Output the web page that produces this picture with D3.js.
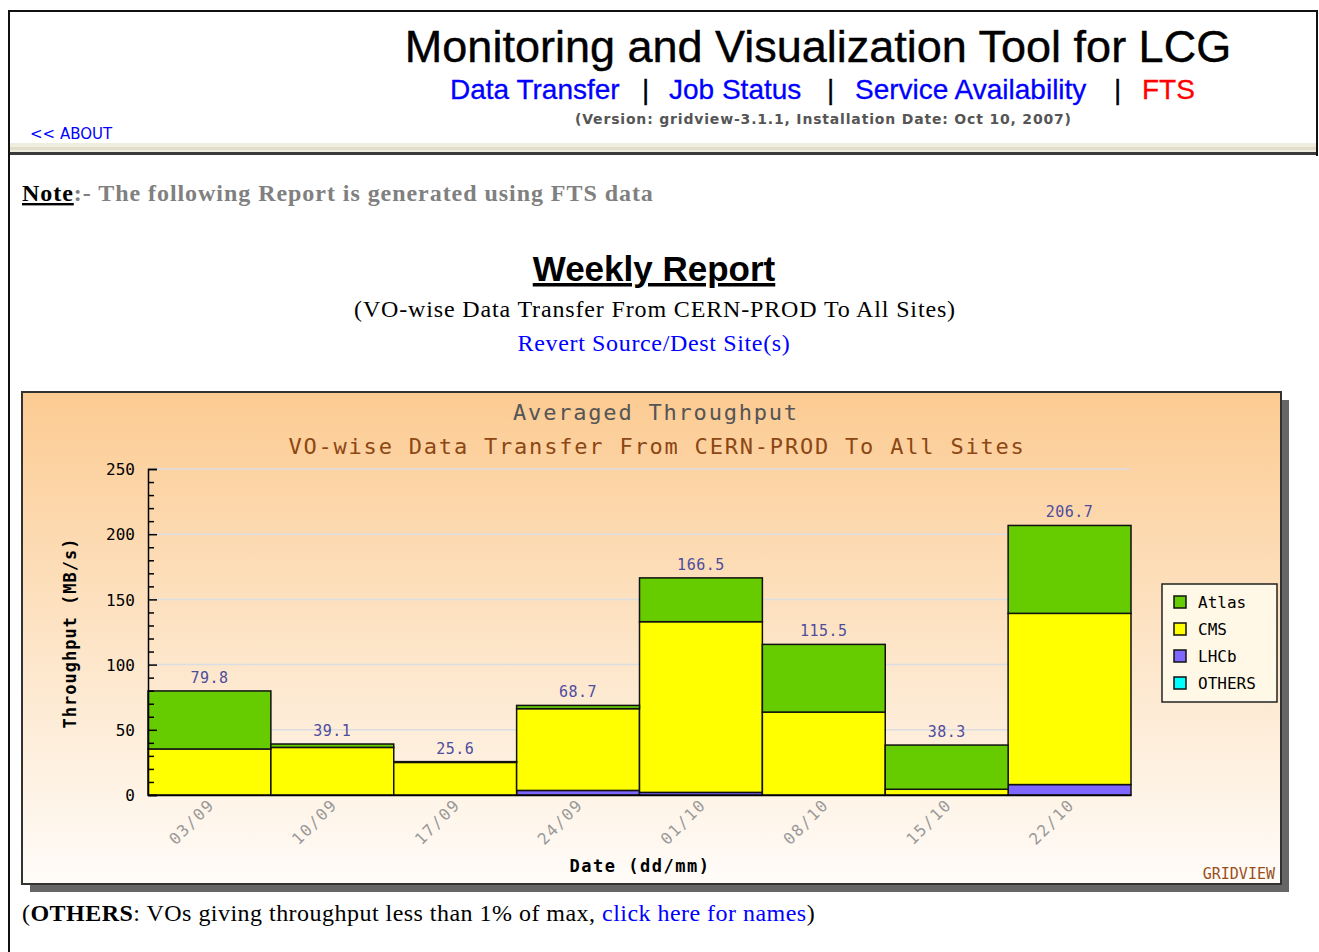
<!DOCTYPE html>
<html>
<head>
<meta charset="utf-8">
<script src="https://d3js.org/d3.v7.min.js"></script>
<style>
  html, body { margin: 0; padding: 0; background: #fff; }
  svg { display: block; }
</style>
</head>
<body>
<div id="chart"></div>
<script>
// ---------- data ----------
const weeks   = ["03/09", "10/09", "17/09", "24/09", "01/10", "08/10", "15/10", "22/10"];
const others  = [0, 0, 0, 0, 0, 0, 0, 0];
const lhcb    = [0, 0, 0, 3.5, 2.0, 0, 0, 8.0];
const cms     = [35.3, 36.5, 25.0, 62.7, 130.9, 63.6, 4.4, 131.3];
const atlas   = [44.5, 2.6, 0.6, 2.5, 33.6, 51.9, 33.9, 67.4];
const totals  = [79.8, 39.1, 25.6, 68.7, 166.5, 115.5, 38.3, 206.7];
const seriesNames = ["OTHERS", "LHCb", "CMS", "Atlas"];
const legendOrder = ["Atlas", "CMS", "LHCb", "OTHERS"];
const yTicks = [0, 50, 100, 150, 200, 250];

const seriesColors = { Atlas: "#66cc00", CMS: "#ffff00", LHCb: "#7f66ff", OTHERS: "#00ffff" };
const seriesData = { OTHERS: others, LHCb: lhcb, CMS: cms, Atlas: atlas };

const W = 1319, H = 952;
const svg = d3.select("#chart").append("svg").attr("width", W).attr("height", H);
const defs = svg.append("defs");

// ---------- page frame ----------
svg.append("rect").attr("x", 0).attr("y", 0).attr("width", W).attr("height", H).attr("fill", "#fff");
svg.append("rect").attr("x", 9).attr("y", 143).attr("width", 1308).attr("height", 9).attr("fill", "#efece0");
svg.append("rect").attr("x", 9).attr("y", 147).attr("width", 1308).attr("height", 3).attr("fill", "#e2ddc8");
svg.append("rect").attr("x", 9).attr("y", 152).attr("width", 1308).attr("height", 3).attr("fill", "#3a3a3a");
svg.append("line").attr("x1", 8).attr("x2", 1318).attr("y1", 11).attr("y2", 11).attr("stroke", "#111").attr("stroke-width", 2);
svg.append("line").attr("x1", 9).attr("x2", 9).attr("y1", 10).attr("y2", H).attr("stroke", "#111").attr("stroke-width", 2);
svg.append("line").attr("x1", 1317).attr("x2", 1317).attr("y1", 10).attr("y2", 156).attr("stroke", "#111").attr("stroke-width", 2);

// ---------- header ----------
svg.append("text").attr("x", 818).attr("y", 62).attr("text-anchor", "middle")
  .style("font-family", "'Liberation Sans', Arial, sans-serif").style("font-size", "45px").attr("fill", "#000")
  .attr("stroke", "#000").attr("stroke-width", 0.4)
  .text("Monitoring and Visualization Tool for LCG");

const nav = [
  { t: "Data Transfer", x: 450, c: "#0000ff" },
  { t: "|", x: 642, c: "#000" },
  { t: "Job Status", x: 669, c: "#0000ff" },
  { t: "|", x: 827, c: "#000" },
  { t: "Service Availability", x: 855, c: "#0000ff" },
  { t: "|", x: 1114, c: "#000" },
  { t: "FTS", x: 1142, c: "#ff0000" }
];
svg.selectAll("text.nav").data(nav).enter().append("text").attr("class", "nav")
  .attr("x", d => d.x).attr("y", 99)
  .style("font-family", "'Liberation Sans', Arial, sans-serif").style("font-size", "28px")
  .attr("fill", d => d.c).attr("stroke", d => d.c).attr("stroke-width", 0.3).text(d => d.t);

svg.append("text").attr("x", 575).attr("y", 124)
  .attr("textLength", 496).attr("lengthAdjust", "spacing")
  .style("font-family", "'DejaVu Sans', Verdana, sans-serif").style("font-size", "14px").style("font-weight", "bold")
  .attr("fill", "#555").text("(Version: gridview-3.1.1, Installation Date: Oct 10, 2007)");

svg.append("text").attr("x", 30).attr("y", 139)
  .style("font-family", "'DejaVu Sans', Verdana, sans-serif").style("font-size", "15px")
  .attr("fill", "#0000ff").text("<< ABOUT");

// ---------- note ----------
const note = svg.append("text").attr("x", 22).attr("y", 201)
  .style("font-family", "'Liberation Serif', 'Times New Roman', serif").style("font-size", "24px").style("font-weight", "bold")
  .style("letter-spacing", "0.95px");
note.append("tspan").attr("fill", "#000").style("text-decoration", "underline").text("Note");
note.append("tspan").attr("fill", "#808080").text(":- The following Report is generated using FTS data");

svg.append("text").attr("x", 654).attr("y", 281).attr("text-anchor", "middle")
  .style("font-family", "'Liberation Sans', Arial, sans-serif").style("font-size", "35px").style("font-weight", "bold")
  .style("text-decoration", "underline").attr("fill", "#000").text("Weekly Report");

svg.append("text").attr("x", 655).attr("y", 317).attr("text-anchor", "middle")
  .style("font-family", "'Liberation Serif', 'Times New Roman', serif").style("font-size", "24px").style("letter-spacing", "0.85px")
  .attr("fill", "#000").text("(VO-wise Data Transfer From CERN-PROD To All Sites)");

svg.append("text").attr("x", 654).attr("y", 351).attr("text-anchor", "middle")
  .style("font-family", "'Liberation Serif', 'Times New Roman', serif").style("font-size", "24px").style("letter-spacing", "0.65px")
  .attr("fill", "#0000ff").text("Revert Source/Dest Site(s)");

// ---------- chart box ----------
const box = { x: 22, y: 392, w: 1259, h: 492 };
svg.append("rect").attr("x", box.x + 8).attr("y", box.y + 8).attr("width", box.w).attr("height", box.h).attr("fill", "#666");
const grad = defs.append("linearGradient").attr("id", "bg").attr("x1", 0).attr("y1", 0).attr("x2", 0).attr("y2", 1);
grad.append("stop").attr("offset", "0%").attr("stop-color", "#fccb92");
grad.append("stop").attr("offset", "50%").attr("stop-color", "#fde4c6");
grad.append("stop").attr("offset", "100%").attr("stop-color", "#fffcf9");
svg.append("rect").attr("x", box.x).attr("y", box.y).attr("width", box.w).attr("height", box.h)
  .attr("fill", "url(#bg)").attr("stroke", "#333").attr("stroke-width", 2);

const mono = "'DejaVu Sans Mono', 'Liberation Mono', monospace";

svg.append("text").attr("x", 656).attr("y", 420).attr("text-anchor", "middle")
  .style("font-family", mono).style("font-size", "22px").style("letter-spacing", "1.8px")
  .attr("fill", "#555").text("Averaged Throughput");
svg.append("text").attr("x", 657).attr("y", 454).attr("text-anchor", "middle")
  .style("font-family", mono).style("font-size", "22px").style("letter-spacing", "1.8px")
  .attr("fill", "#8c4714").text("VO-wise Data Transfer From CERN-PROD To All Sites");

// scales
const x = d3.scaleBand().domain(weeks).range([148, 1131]).padding(0);
const y = d3.scaleLinear().domain([0, 250]).range([795, 469]);

// grid
svg.append("g").selectAll("line").data(yTicks.filter(v => v > 0)).enter().append("line")
  .attr("x1", 148).attr("x2", 1131).attr("y1", d => y(d)).attr("y2", d => y(d))
  .attr("stroke", "#dcdde2").attr("stroke-width", 1.5);

// stacked bars
const rows = weeks.map((w, i) => {
  const r = { week: w };
  seriesNames.forEach(s => { r[s] = seriesData[s][i]; });
  return r;
});
const stacked = d3.stack().keys(seriesNames)(rows);
const barG = svg.append("g");
stacked.forEach(layer => {
  barG.append("g").selectAll("rect").data(layer.filter(d => d[1] - d[0] > 0)).enter().append("rect")
    .attr("x", d => x(d.data.week))
    .attr("y", d => y(d[1]))
    .attr("width", x.bandwidth())
    .attr("height", d => y(d[0]) - y(d[1]))
    .attr("fill", seriesColors[layer.key])
    .attr("stroke", "#111").attr("stroke-width", 1.5);
});

// value labels
svg.append("g").selectAll("text").data(weeks).enter().append("text")
  .attr("x", (d) => x(d) + x.bandwidth() / 2)
  .attr("y", (d, i) => y(totals[i]) - 8)
  .attr("text-anchor", "middle")
  .style("font-family", mono).style("font-size", "15px").style("letter-spacing", "0.5px")
  .attr("fill", "#4d4d9e").text((d, i) => totals[i].toFixed(1));

// y axis
const yAxis = svg.append("g").attr("transform", "translate(148,0)")
  .call(d3.axisLeft(y).tickValues(yTicks).tickSize(-9).tickPadding(13).tickFormat(d3.format("d")));
yAxis.select(".domain").attr("stroke", "#000").attr("stroke-width", 1.5);
yAxis.selectAll(".tick line").attr("stroke", "#000").attr("stroke-width", 1.5);
yAxis.selectAll(".tick text").style("font-family", mono).style("font-size", "16px").attr("fill", "#000").attr("dy", "0.35em");
const minor = d3.range(0, 251, 10).filter(v => v % 50 !== 0);
const yMinor = svg.append("g").attr("transform", "translate(148,0)")
  .call(d3.axisLeft(y).tickValues(minor).tickSize(-6).tickFormat(""));
yMinor.select(".domain").remove();
yMinor.selectAll(".tick line").attr("stroke", "#000").attr("stroke-width", 1.5);

// x axis
const xAxis = svg.append("g").attr("transform", "translate(0,795)")
  .call(d3.axisBottom(x).tickSize(0).tickPadding(0));
xAxis.select(".domain").attr("stroke", "#000").attr("stroke-width", 1.5);
xAxis.selectAll(".tick text")
  .attr("text-anchor", "end")
  .attr("transform", "translate(-2,3) rotate(-45)")
  .attr("dy", "0.7em").attr("y", 0).attr("x", 0)
  .style("font-family", mono).style("font-size", "16px").style("letter-spacing", "1.6px")
  .attr("fill", "#999");

// axis titles
svg.append("text").attr("transform", "translate(76,633) rotate(-90)").attr("text-anchor", "middle")
  .style("font-family", mono).style("font-size", "17px").style("font-weight", "bold").style("letter-spacing", "1px")
  .attr("fill", "#000").text("Throughput (MB/s)");
svg.append("text").attr("x", 640).attr("y", 872).attr("text-anchor", "middle")
  .style("font-family", mono).style("font-size", "17px").style("font-weight", "bold").style("letter-spacing", "1.5px")
  .attr("fill", "#000").text("Date (dd/mm)");

// legend
const lg = svg.append("g");
lg.append("rect").attr("x", 1162).attr("y", 584).attr("width", 115).attr("height", 118)
  .attr("fill", "#fff8e6").attr("stroke", "#222").attr("stroke-width", 1.5);
const li = lg.selectAll("g.item").data(legendOrder).enter().append("g").attr("class", "item")
  .attr("transform", (d, i) => `translate(1174,${596 + i * 27})`);
li.append("rect").attr("width", 12).attr("height", 12).attr("fill", d => seriesColors[d]).attr("stroke", "#111").attr("stroke-width", 1.5);
li.append("text").attr("x", 24).attr("y", 12)
  .style("font-family", mono).style("font-size", "16px").attr("fill", "#000").text(d => d);

svg.append("text").attr("x", 1275).attr("y", 879).attr("text-anchor", "end")
  .style("font-family", mono).style("font-size", "15px").attr("fill", "#9a4e1c").text("GRIDVIEW");

// ---------- footer ----------
const foot = svg.append("text").attr("x", 22).attr("y", 921)
  .style("font-family", "'Liberation Serif', 'Times New Roman', serif").style("font-size", "24px").style("letter-spacing", "0.47px").attr("fill", "#000");
foot.append("tspan").text("(");
foot.append("tspan").style("font-weight", "bold").text("OTHERS");
foot.append("tspan").text(": VOs giving throughput less than 1% of max, ");
foot.append("tspan").attr("fill", "#0000ff").text("click here for names");
foot.append("tspan").text(")");
</script>
</body>
</html>
